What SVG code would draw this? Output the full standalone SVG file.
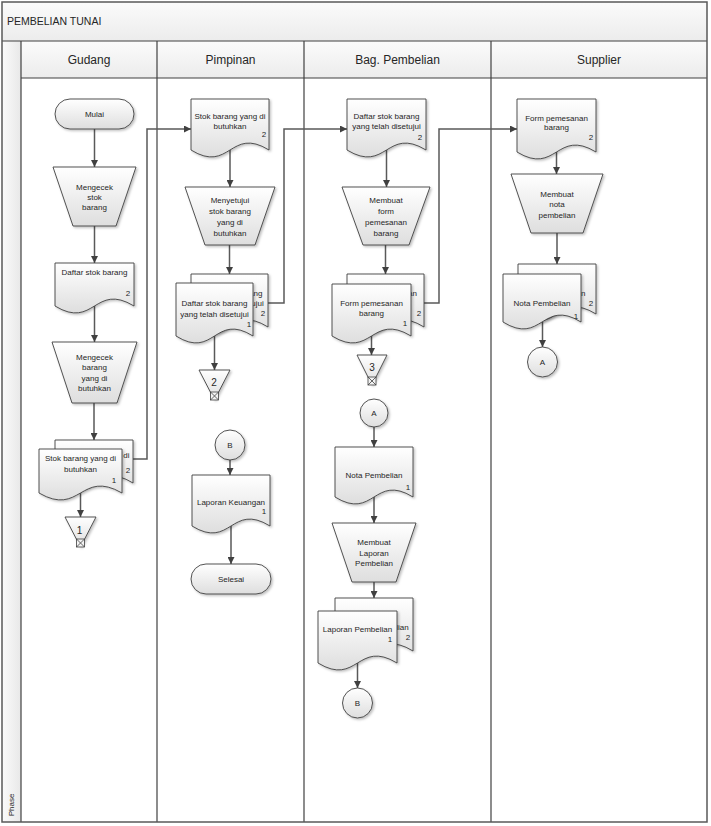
<svg xmlns="http://www.w3.org/2000/svg" width="711" height="826" viewBox="0 0 711 826">
<style>
.t{font-family:"Liberation Sans",Arial,sans-serif;font-size:8px;fill:#262626;text-anchor:middle;dominant-baseline:central}
.h{font-family:"Liberation Sans",Arial,sans-serif;font-size:12px;fill:#262626;text-anchor:middle;dominant-baseline:central}
.ttl{font-family:"Liberation Sans",Arial,sans-serif;font-size:10.5px;fill:#262626;dominant-baseline:central}
.big{font-family:"Liberation Sans",Arial,sans-serif;font-size:10px;fill:#262626;text-anchor:middle;dominant-baseline:central}
.sh{fill:url(#g);stroke:#404040;stroke-width:0.9;filter:url(#ds)}
.ln{fill:none;stroke:#404040;stroke-width:1.2}
.c{fill:none;stroke:#595959;stroke-width:1.5;marker-end:url(#arr)}
.x{fill:none;stroke:#404040;stroke-width:0.8}
</style>
<defs>
<linearGradient id="g" x1="0" y1="0" x2="0" y2="1">
<stop offset="0" stop-color="#ffffff"/>
<stop offset="1" stop-color="#dedede"/>
</linearGradient>
<linearGradient id="hg" x1="0" y1="0" x2="0" y2="1">
<stop offset="0" stop-color="#fbfbfb"/>
<stop offset="1" stop-color="#ececec"/>
</linearGradient>
<linearGradient id="pg" x1="0" y1="0" x2="1" y2="0">
<stop offset="0" stop-color="#fbfbfb"/>
<stop offset="1" stop-color="#e8e8e8"/>
</linearGradient>
<filter id="ds" x="-20%" y="-20%" width="140%" height="140%">
<feDropShadow dx="1.5" dy="1.5" stdDeviation="1.2" flood-color="#000" flood-opacity="0.25"/>
</filter>
<marker id="arr" viewBox="0 0 10 10" refX="10" refY="5" markerWidth="7" markerHeight="7" orient="auto" markerUnits="userSpaceOnUse">
<path d="M0,0 L10,5 L0,10 z" fill="#404040"/>
</marker>
</defs>

<g id="frame">
<rect x="2" y="2" width="705" height="820" fill="#ffffff"/>
<rect x="2" y="2" width="705" height="39" fill="url(#hg)"/>
<rect x="21" y="41" width="686" height="37" fill="url(#hg)"/>
<rect x="2" y="41" width="19" height="781" fill="url(#pg)"/>
<text class="ttl" x="7" y="21">PEMBELIAN TUNAI</text>
<line class="ln" x1="2" y1="41" x2="707" y2="41"/>
<line class="ln" x1="21" y1="78" x2="707" y2="78"/>
<line class="ln" x1="21" y1="41" x2="21" y2="822"/>
<line class="ln" x1="157" y1="41" x2="157" y2="822"/>
<line class="ln" x1="304" y1="41" x2="304" y2="822"/>
<line class="ln" x1="491" y1="41" x2="491" y2="822"/>
<rect x="2" y="2" width="705" height="820" fill="none" stroke="#595959" stroke-width="1.5"/>
<text class="h" x="89" y="60">Gudang</text>
<text class="h" x="230.5" y="60">Pimpinan</text>
<text class="h" x="397.5" y="60">Bag. Pembelian</text>
<text class="h" x="599" y="60">Supplier</text>
<text class="t" font-size="7" transform="translate(11,805) rotate(-90)">Phase</text>
</g>

<g id="connectors">
<path class="c" d="M94.5,129 V167"/>
<path class="c" d="M94.5,226 V263"/>
<path class="c" d="M94.5,306 V342"/>
<path class="c" d="M94,403 V440"/>
<path class="c" d="M80.5,493 V517"/>
<path class="c" d="M230,150 V187"/>
<path class="c" d="M229.5,245 V274"/>
<path class="c" d="M214.5,336 V370"/>
<path class="c" d="M230,460 V475"/>
<path class="c" d="M231,526 V564"/>
<path class="c" d="M386.5,150 V187"/>
<path class="c" d="M385.5,245 V274"/>
<path class="c" d="M371.5,336 V355"/>
<path class="c" d="M374,427 V447"/>
<path class="c" d="M374,497 V523"/>
<path class="c" d="M374,582 V598"/>
<path class="c" d="M357.5,663 V688"/>
<path class="c" d="M556.5,152 V174"/>
<path class="c" d="M557,233 V264"/>
<path class="c" d="M542.5,322 V347"/>
<path class="c" d="M133,459 H147 V129 H191"/>
<path class="c" d="M268,303 H284 V129 H347"/>
<path class="c" d="M424,303 H439 V129 H517"/>
</g>

<g id="mulai">
<rect class="sh" x="55" y="99" width="79" height="30" rx="15"/>
<text class="t" x="94.5" y="114">Mulai</text>
</g>
<g id="mengecek-stok">
<polygon class="sh" points="53,167 136,167 116,226 73,226"/>
<text class="t" x="94.5" y="187">Mengecek</text>
<text class="t" x="94.5" y="197">stok</text>
<text class="t" x="94.5" y="207">barang</text>
</g>
<g id="daftar-stok">
<path class="sh" d="M55,263 H134 V306 C94.5,282 94.5,330 55,306 Z"/>
<text class="t" x="94.5" y="272">Daftar stok barang</text>
<text class="t" x="128" y="293">2</text>
</g>
<g id="mengecek-barang">
<polygon class="sh" points="52,342 137,342 117,403 72,403"/>
<text class="t" x="94.5" y="357">Mengecek</text>
<text class="t" x="94.5" y="367">barang</text>
<text class="t" x="94.5" y="378">yang di</text>
<text class="t" x="94.5" y="388">butuhkan</text>
</g>
<g id="stok-dibutuhkan-gudang">
<path class="sh" d="M55,440 H133 V483 C94,459 94,507 55,483 Z"/>
<text class="t" x="94" y="455">Stok barang yang di</text>
<text class="t" x="94" y="465">butuhkan</text>
<text class="t" x="128" y="470">2</text>
<path class="sh" d="M39,449 H122 V493 C80.5,469 80.5,517 39,493 Z"/>
<text class="t" x="80.5" y="458">Stok barang yang di</text>
<text class="t" x="80.5" y="469">butuhkan</text>
<text class="t" x="114" y="480">1</text>
</g>
<g id="offpage-1">
<polygon class="sh" points="65,517 96,517 80.5,547"/>
<rect x="76.5" y="539" width="8" height="8" fill="#f2f2f2" stroke="#404040" stroke-width="0.8"/>
<path class="x" d="M76.5,539 L84.5,547 M84.5,539 L76.5,547"/>
<text class="big" x="79.5" y="530">1</text>
</g>

<g id="stok-dibutuhkan-pimpinan">
<path class="sh" d="M191,99 H269 V150 C230,126 230,174 191,150 Z"/>
<text class="t" x="230" y="116">Stok barang yang di</text>
<text class="t" x="230" y="126">butuhkan</text>
<text class="t" x="264" y="134">2</text>
</g>
<g id="menyetujui">
<polygon class="sh" points="185,187 275,187 255,245 205,245"/>
<text class="t" x="230" y="200">Menyetujui</text>
<text class="t" x="230" y="211">stok barang</text>
<text class="t" x="230" y="222">yang di</text>
<text class="t" x="230" y="233">butuhkan</text>
</g>
<g id="daftar-disetujui-pimpinan">
<path class="sh" d="M191,274 H268 V327 C229.5,303 229.5,351 191,327 Z"/>
<text class="t" x="229.5" y="293">Daftar stok barang</text>
<text class="t" x="229.5" y="303">yang telah disetujui</text>
<text class="t" x="263" y="313">2</text>
<path class="sh" d="M176,283 H253 V336 C214.5,312 214.5,360 176,336 Z"/>
<text class="t" x="214.5" y="303">Daftar stok barang</text>
<text class="t" x="214.5" y="314">yang telah disetujui</text>
<text class="t" x="249" y="324">1</text>
</g>
<g id="offpage-2">
<polygon class="sh" points="199,370 230,370 214.5,400"/>
<rect x="210.5" y="392" width="8" height="8" fill="#f2f2f2" stroke="#404040" stroke-width="0.8"/>
<path class="x" d="M210.5,392 L218.5,400 M218.5,392 L210.5,400"/>
<text class="big" x="214" y="382">2</text>
</g>
<g id="conn-b-pimpinan">
<circle class="sh" cx="230" cy="445" r="15"/>
<text class="t" x="230" y="445">B</text>
</g>
<g id="laporan-keuangan">
<path class="sh" d="M192,475 H270 V526 C231,502 231,550 192,526 Z"/>
<text class="t" x="231" y="502">Laporan Keuangan</text>
<text class="t" x="264" y="511">1</text>
</g>
<g id="selesai">
<rect class="sh" x="191" y="564" width="80" height="30" rx="15"/>
<text class="t" x="231" y="579">Selesai</text>
</g>

<g id="daftar-disetujui-bag">
<path class="sh" d="M347,99 H426 V150 C386.5,126 386.5,174 347,150 Z"/>
<text class="t" x="386.5" y="116">Daftar stok barang</text>
<text class="t" x="386.5" y="126">yang telah disetujui</text>
<text class="t" x="420" y="137">2</text>
</g>
<g id="membuat-form">
<polygon class="sh" points="342,187 430,187 409,245 363,245"/>
<text class="t" x="386" y="200">Membuat</text>
<text class="t" x="386" y="211">form</text>
<text class="t" x="386" y="222">pemesanan</text>
<text class="t" x="386" y="233">barang</text>
</g>
<g id="form-pemesanan-bag">
<path class="sh" d="M347,274 H424 V327 C385.5,303 385.5,351 347,327 Z"/>
<text class="t" x="385.5" y="293">Form pemesanan</text>
<text class="t" x="385.5" y="303">barang</text>
<text class="t" x="419" y="313">2</text>
<path class="sh" d="M332,284 H411 V336 C371.5,312 371.5,360 332,336 Z"/>
<text class="t" x="371.5" y="303">Form pemesanan</text>
<text class="t" x="371.5" y="313">barang</text>
<text class="t" x="405" y="323">1</text>
</g>
<g id="offpage-3">
<polygon class="sh" points="357,355 387,355 372,385"/>
<rect x="368" y="377" width="8" height="8" fill="#f2f2f2" stroke="#404040" stroke-width="0.8"/>
<path class="x" d="M368,377 L376,385 M376,377 L368,385"/>
<text class="big" x="372" y="367">3</text>
</g>
<g id="conn-a-bag">
<circle class="sh" cx="374" cy="413" r="14"/>
<text class="t" x="374" y="413">A</text>
</g>
<g id="nota-bag">
<path class="sh" d="M335,447 H413 V497 C374,473 374,521 335,497 Z"/>
<text class="t" x="374" y="475">Nota Pembelian</text>
<text class="t" x="408" y="487">1</text>
</g>
<g id="membuat-laporan">
<polygon class="sh" points="332,523 416,523 396,582 352,582"/>
<text class="t" x="374" y="542">Membuat</text>
<text class="t" x="374" y="553">Laporan</text>
<text class="t" x="374" y="563">Pembelian</text>
</g>
<g id="laporan-pembelian">
<path class="sh" d="M335,598 H413 V651 C374,627 374,675 335,651 Z"/>
<text class="t" x="374" y="627">Laporan Pembelian</text>
<text class="t" x="408" y="637">2</text>
<path class="sh" d="M318,611 H397 V663 C357.5,639 357.5,687 318,663 Z"/>
<text class="t" x="357.5" y="629">Laporan Pembelian</text>
<text class="t" x="390" y="639">1</text>
</g>
<g id="conn-b-bag">
<circle class="sh" cx="357.5" cy="703" r="15"/>
<text class="t" x="357.5" y="703">B</text>
</g>

<g id="form-pemesanan-supplier">
<path class="sh" d="M517,99 H596 V152 C556.5,128 556.5,176 517,152 Z"/>
<text class="t" x="556.5" y="118">Form pemesanan</text>
<text class="t" x="556.5" y="127">barang</text>
<text class="t" x="591" y="137">2</text>
</g>
<g id="membuat-nota">
<polygon class="sh" points="511,174 603,174 583,233 531,233"/>
<text class="t" x="557" y="194">Membuat</text>
<text class="t" x="557" y="204">nota</text>
<text class="t" x="557" y="215">pembelian</text>
</g>
<g id="nota-supplier">
<path class="sh" d="M518,264 H596 V314 C557,290 557,338 518,314 Z"/>
<text class="t" x="557" y="293">Nota Pembelian</text>
<text class="t" x="591" y="303">2</text>
<path class="sh" d="M503,274 H581 V322 C542,298 542,346 503,322 Z"/>
<text class="t" x="542" y="303">Nota Pembelian</text>
<text class="t" x="576" y="316">1</text>
</g>
<g id="conn-a-supplier">
<circle class="sh" cx="542.5" cy="362" r="15"/>
<text class="t" x="542.5" y="362">A</text>
</g>
</svg>
